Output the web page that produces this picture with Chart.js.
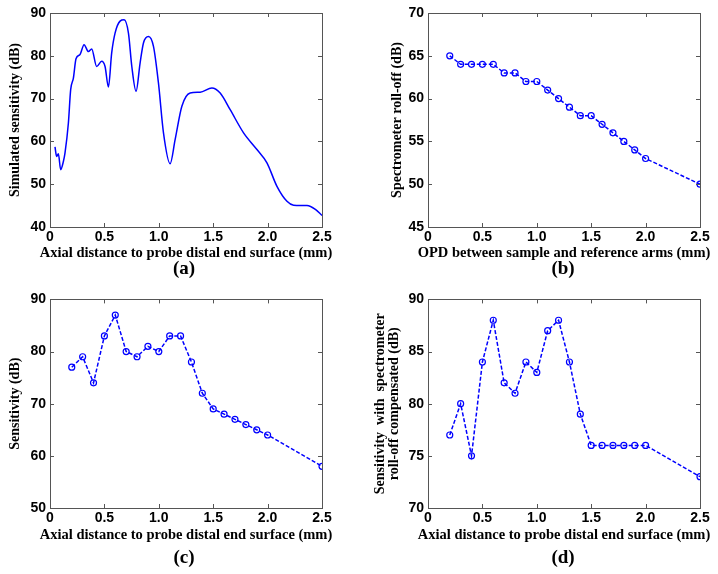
<!DOCTYPE html>
<html>
<head>
<meta charset="utf-8">
<script src="https://cdn.jsdelivr.net/npm/chart.js@4.4.1/dist/chart.umd.min.js"></script>
<style>
  html, body { margin: 0; padding: 0; background: #fff; }
  body { width: 718px; height: 574px; position: relative; overflow: hidden; }
  .panel { position: absolute; width: 359px; height: 287px; }
  .panel canvas { display: block; }
  .tag { position: absolute; font: bold 19px "Liberation Serif", "Times New Roman", serif; color: #000; transform: translateX(-50%); }
</style>
</head>
<body>
<div class="panel" id="pa" style="left:0;top:0"><canvas id="ca"></canvas></div>
<div class="panel" id="pb" style="left:359px;top:0"><canvas id="cb"></canvas></div>
<div class="panel" id="pc" style="left:0;top:287px"><canvas id="cc"></canvas></div>
<div class="panel" id="pd" style="left:359px;top:287px"><canvas id="cd"></canvas></div>
<div class="tag" style="left:184px;top:257px">(a)</div>
<div class="tag" style="left:563px;top:257px">(b)</div>
<div class="tag" style="left:184px;top:546px">(c)</div>
<div class="tag" style="left:563px;top:546px">(d)</div>

<script>
// (a) simulated sensitivity
const distSim = [0.046, 0.061, 0.077, 0.098, 0.123, 0.138, 0.169, 0.19, 0.215, 0.239, 0.276, 0.313, 0.353, 0.383,
  0.429, 0.475, 0.506, 0.537, 0.567, 0.598, 0.644, 0.681, 0.721, 0.752, 0.791, 0.828, 0.859, 0.905, 0.951,
  0.997, 1.043, 1.104, 1.15, 1.212, 1.288, 1.38, 1.488, 1.564, 1.656, 1.779, 1.902, 1.994, 2.086, 2.178,
  2.239, 2.362, 2.439, 2.5];
const simSensitivity = [58.7, 56.5, 57.1, 53.4, 55.3, 57.3, 64.3, 72.1, 74.8, 79.3, 80.3, 82.6, 81.0, 81.6,
  77.5, 78.7, 77.5, 72.7, 80.7, 85.3, 88.1, 88.4, 85.3, 77.5, 71.7, 78.3, 83.0, 84.5, 82.2,
  73.6, 62.0, 54.8, 60.4, 68.2, 71.3, 71.5, 72.5, 71.3, 67.4, 62.0, 58.1, 55.0, 49.5, 46.0,
  45.1, 45.0, 44.1, 42.7];

// measured positions (b, c, d share them)
const distMeas = [0.2, 0.3, 0.4, 0.5, 0.6, 0.7, 0.8, 0.9, 1.0, 1.1, 1.2, 1.3, 1.4, 1.5, 1.6, 1.7, 1.8, 1.9, 2.0, 2.5];
const rollOff = [65, 64, 64, 64, 64, 63, 63, 62, 62, 61, 60, 59, 58, 58, 57, 56, 55, 54, 53, 50];
const sensitivity = [77, 79, 74, 83, 87, 80, 79, 81, 80, 83, 83, 78, 72, 69, 68, 67, 66, 65, 64, 58];
const compensated = [77, 80, 75, 84, 88, 82, 81, 84, 83, 87, 88, 84, 79, 76, 76, 76, 76, 76, 76, 73];

const xTicks = [0, 0.5, 1, 1.5, 2, 2.5];

const BLUE = '#0000ff';
const SERIF = '"Liberation Serif", "Times New Roman", serif';
const TICK_FONT = { family: '"Liberation Sans", Arial, sans-serif', size: 14, weight: 'bold' };
const YTITLE_FONT = { family: SERIF, size: 14, weight: 'bold', lineHeight: 1.0 };

// box + inward ticks like MATLAB axes, plus the x label (may be wider than the axes)
const matlabBox = {
  id: 'matlabBox',
  afterDatasetsDraw(chart, args, opts) {
    const { ctx, chartArea: a, scales } = chart;
    const len = 4;
    ctx.save();
    ctx.strokeStyle = '#555';
    ctx.lineWidth = 1;
    ctx.beginPath();
    scales.x.ticks.forEach(t => {
      const px = Math.round(scales.x.getPixelForValue(t.value)) + 0.5;
      ctx.moveTo(px, a.bottom); ctx.lineTo(px, a.bottom - len);
      ctx.moveTo(px, a.top); ctx.lineTo(px, a.top + len);
    });
    scales.y.ticks.forEach(t => {
      const py = Math.round(scales.y.getPixelForValue(t.value)) + 0.5;
      ctx.moveTo(a.left, py); ctx.lineTo(a.left + len, py);
      ctx.moveTo(a.right, py); ctx.lineTo(a.right - len, py);
    });
    ctx.stroke();
    ctx.strokeRect(Math.round(a.left) + 0.5, Math.round(a.top) + 0.5,
      Math.round(a.right - a.left), Math.round(a.bottom - a.top));

    if (opts.xTitle) {
      ctx.fillStyle = '#000';
      ctx.font = 'bold 14.5px ' + SERIF;
      ctx.textAlign = 'center';
      ctx.textBaseline = 'middle';
      ctx.fillText(opts.xTitle, (a.left + a.right) / 2, opts.xTitleY);
    }
    ctx.restore();
  }
};

function pares(xs, ys) {
  return xs.map((x, i) => ({ x: x, y: ys[i] }));
}

function criarPainel(id, cfg) {
  const ds = {
    data: pares(cfg.xs, cfg.ys),
    borderColor: BLUE,
    borderWidth: 1.5,
    fill: false
  };
  if (cfg.smooth) {
    ds.pointRadius = 0;
    ds.tension = 0.4;
    ds.cubicInterpolationMode = 'monotone';
  } else {
    ds.borderDash = [4, 2];
    ds.tension = 0;
    ds.pointRadius = 3;
    ds.pointBorderWidth = 1.2;
    ds.pointBackgroundColor = 'rgba(0,0,0,0)';
    ds.pointBorderColor = BLUE;
  }

  return new Chart(document.getElementById(id), {
    type: 'line',
    data: { datasets: [ds] },
    plugins: [matlabBox],
    options: {
      responsive: true,
      maintainAspectRatio: false,
      animation: false,
      layout: { padding: { top: cfg.padTop, right: cfg.padRight, left: 0, bottom: 0 } },
      plugins: {
        legend: { display: false },
        tooltip: { enabled: false },
        matlabBox: { xTitle: cfg.xTitle, xTitleY: cfg.xTitleY }
      },
      scales: {
        x: {
          type: 'linear', min: 0, max: 2.5,
          afterBuildTicks: (s) => { s.ticks = xTicks.map(v => ({ value: v })); },
          afterFit: (s) => { s.height = cfg.xHeight; },
          grid: { display: false, drawTicks: false },
          border: { display: false },
          ticks: { color: '#000', font: TICK_FONT, padding: 2, maxRotation: 0 },
          title: { display: false }
        },
        y: {
          min: cfg.yMin, max: cfg.yMax,
          afterBuildTicks: (s) => { s.ticks = cfg.yTicks.map(v => ({ value: v })); },
          afterFit: (s) => { s.width = cfg.yWidth; },
          grid: { display: false, drawTicks: false },
          border: { display: false },
          ticks: { color: '#000', font: TICK_FONT, padding: 4 },
          title: { display: true, text: cfg.yTitle, color: '#000', font: YTITLE_FONT,
                   padding: { top: cfg.yTitleTop, bottom: 0 } }
        }
      }
    }
  });
}

criarPainel('ca', {
  xs: distSim, ys: simSensitivity, smooth: true,
  yMin: 40, yMax: 90, yTicks: [40, 50, 60, 70, 80, 90],
  yTitle: 'Simulated sensitivity (dB)', xTitle: 'Axial distance to probe distal end surface (mm)',
  padTop: 13, padRight: 37, yWidth: 50, xHeight: 60, xTitleY: 253, yTitleTop: 8
});

criarPainel('cb', {
  xs: distMeas, ys: rollOff,
  yMin: 45, yMax: 70, yTicks: [45, 50, 55, 60, 65, 70],
  yTitle: 'Spectrometer roll-off (dB)', xTitle: 'OPD between sample and reference arms (mm)',
  padTop: 13, padRight: 18, yWidth: 69, xHeight: 60, xTitleY: 253, yTitleTop: 31
});

criarPainel('cc', {
  xs: distMeas, ys: sensitivity,
  yMin: 50, yMax: 90, yTicks: [50, 60, 70, 80, 90],
  yTitle: 'Sensitivity (dB)', xTitle: 'Axial distance to probe distal end surface (mm)',
  padTop: 8, padRight: 37, yWidth: 50, xHeight: 66, xTitleY: 248, yTitleTop: 8
});

criarPainel('cd', {
  xs: distMeas, ys: compensated,
  yMin: 70, yMax: 90, yTicks: [70, 75, 80, 85, 90],
  yTitle: ['Sensitivity  with  spectrometer', 'roll-off compensated (dB)'],
  xTitle: 'Axial distance to probe distal end surface (mm)',
  padTop: 8, padRight: 18, yWidth: 69, xHeight: 66, xTitleY: 248, yTitleTop: 14
});
</script>
</body>
</html>
